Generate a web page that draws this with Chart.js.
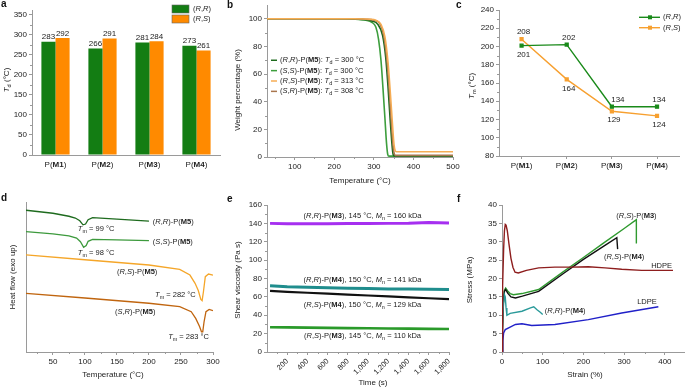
<!DOCTYPE html>
<html lang="en">
<head>
<meta charset="UTF-8">
<title>Polymer panels</title>
<script src="https://cdn.jsdelivr.net/npm/chart.js"></script>
<style>
  body { margin: 0; background: #fff; }
  #wrap { position: relative; width: 685px; height: 389px; overflow: hidden; }
  canvas { position: absolute; }
  .lt { position: absolute; font: bold 10px "Liberation Sans", Arial, sans-serif; line-height: 10px; color: #111; }
</style>
</head>
<body>
<div id="wrap">
  <canvas id="ca"></canvas><canvas id="cb"></canvas><canvas id="cc"></canvas>
  <canvas id="cd"></canvas><canvas id="ce"></canvas><canvas id="cf"></canvas>
  <div class="lt" style="left:1px;top:-1px">a</div>
  <div class="lt" style="left:227px;top:0px">b</div>
  <div class="lt" style="left:456px;top:0px">c</div>
  <div class="lt" style="left:1px;top:193px">d</div>
  <div class="lt" style="left:227px;top:194px">e</div>
  <div class="lt" style="left:457px;top:194px">f</div>
</div>
<script>
// ---- data ----
const cats = ['M1', 'M2', 'M3', 'M4'];
const tdRR = [283, 266, 281, 273];
const tdRS = [292, 291, 284, 261];
const tmRR = [201, 202, 134, 134];
const tmRS = [208, 164, 129, 124];

// TGA (temperature, weight %)
const tgaRR = [[30,100],[230,100],[270,99.6],[295,98.5],[310,96],[322,88],[330,72],[336,50],[341,28],[345,12],[348,3],[351,0.8],[500,0.8]];
const tgaSS = [[30,100],[200,100],[250,99.8],[280,99],[295,97.5],[305,94],[312,85],[318,70],[323,50],[328,28],[332,10],[335,2],[338,0.6],[500,0.6]];
const tgaRS = [[30,100],[250,100],[290,99.7],[305,99],[318,96],[328,87],[336,68],[342,45],[347,24],[351,9],[354,4.5],[357,3.8],[500,3.8]];
const tgaSR = [[30,100],[240,100],[280,99.7],[300,99],[315,96.5],[325,88],[333,70],[339,48],[344,26],[348,10],[351,3],[354,1.2],[500,1.2]];

// DSC (temperature, heat flow, arbitrary units)
const dscRR = [[8,94.5],[50,92.5],[75,90.5],[85,89.3],[92,87.5],[97,84.8],[101,85.3],[105,88.2],[112,89.6],[150,88.6],[200,87.3]];
const dscSS = [[8,80.2],[50,78.8],[75,77.4],[87,75.9],[93,73.5],[98,69.8],[102,71],[105,73.8],[112,75.1],[150,74.8],[200,74.2]];
const dscRS = [[8,64.7],[100,61.5],[200,58],[248,55.1],[264,51.3],[272,45.8],[277,41],[281,35],[283,34.2],[285,40],[288,50.2],[293,52],[300,51.3]];
const dscSR = [[8,39.1],[100,36],[200,32.5],[248,30.2],[266,26.9],[273,22.4],[279,17],[282,13.5],[284,13.5],[286,20],[289,26.9],[294,28.4],[300,27.6]];

// shear viscosity vs time
const times = [30, 200, 400, 600, 800, 1000, 1200, 1400, 1600, 1800];
const viscRRM3 = [140, 139.5, 139.5, 139.7, 139.8, 139.8, 140, 140.2, 141, 140.5];
const viscRRM4 = [72, 71, 70.5, 70, 69.5, 69, 68.7, 68.5, 68.2, 68];
const viscRSM4 = [66.5, 65.5, 64.5, 63.5, 62.5, 61.5, 60.5, 59.5, 58.5, 57.5];
const viscRSM3 = [27, 26.8, 26.5, 26.3, 26, 25.8, 25.6, 25.4, 25.2, 25];

// stress-strain (strain %, stress MPa)
const ssHDPE = [[0,0],[1,8],[2,18],[4,28],[6,33],[8,34.7],[10,34.5],[13,33],[17,29.5],[22,25.5],[27,23],[32,21.7],[40,21.5],[60,22.2],[90,22.9],[130,23.1],[170,23.1],[212,23.2],[253,22.9],[294,22.5],[343,22.2],[420,22.2]];
const ssRSM3 = [[0,0],[1,6],[3,13],[6,16.8],[9,17.4],[14,16.6],[20,15.9],[28,15.6],[49,15.9],[90,17],[150,21.8],[200,25.7],[250,29.7],[300,33.6],[330,36],[330,29.5]];
const ssRSM4 = [[0,0],[1,6],[3,13],[6,16.5],[9,17],[14,16],[22,15],[33,14.7],[50,15.2],[90,16.5],[150,21.3],[200,25.2],[250,28.8],[282,31.1],[284,28]];
const ssRRM4 = [[0,0],[1,6],[3,12],[6,15.6],[8,15],[10,12],[12,10],[20,10.5],[49,11.1],[70,12],[78,12.3],[86,11.5],[94,10.8],[100,10.2]];
const ssLDPE = [[0,0],[2,3],[4,5.2],[8,6.1],[20,6.8],[33,7.5],[49,7.7],[73,7.2],[130,7.5],[212,8.8],[294,10.6],[384,12.3]];

// ---- drawing helpers ----
const FONT = '"Liberation Sans", Arial, Helvetica, sans-serif';
const INK = '#222', AXIS = '#9a9a9a';
Chart.defaults.font.family = FONT;
Chart.defaults.font.size = 8;
Chart.defaults.color = INK;
Chart.defaults.animation = false;
Chart.defaults.plugins.legend.display = false;
Chart.defaults.plugins.tooltip.enabled = false;

// _x_ italic, *x* bold, ~x~ subscript
function rich(ctx, str, x, y, o = {}) {
  const size = o.size || 7.5;
  const segs = str.split(/(_[^_]+_|\*[^*]+\*|~[^~]+~)/).filter(s => s).map(p => {
    let st = '', t = p, sub = false;
    if (p.length > 2 && p[0] === '_' && p.endsWith('_')) { st = 'italic '; t = p.slice(1, -1); }
    else if (p.length > 2 && p[0] === '*' && p.endsWith('*')) { st = 'bold '; t = p.slice(1, -1); }
    else if (p.length > 2 && p[0] === '~' && p.endsWith('~')) { sub = true; t = p.slice(1, -1); }
    return { t, sub, font: st + (sub ? size * 0.72 : size) + 'px ' + FONT };
  });
  ctx.save();
  ctx.translate(x, y);
  if (o.rot) ctx.rotate(o.rot);
  let w = 0;
  segs.forEach(s => { ctx.font = s.font; s.w = ctx.measureText(s.t).width; w += s.w; });
  let cx = o.align === 'center' ? -w / 2 : o.align === 'right' ? -w : 0;
  ctx.fillStyle = o.color || INK;
  ctx.textBaseline = 'middle';
  segs.forEach(s => { ctx.font = s.font; ctx.fillText(s.t, cx, s.sub ? size * 0.32 : 0); cx += s.w; });
  ctx.restore();
}

function range(a, b, step) { const r = []; for (let v = a; v <= b + 1e-9; v += step) r.push(v); return r; }

function axis(o) {
  const ticks = { display: !o.hide, padding: 2, color: INK, font: { size: o.fs || 8 }, autoSkip: false,
                  maxRotation: o.rot || 0, minRotation: o.rot || 0 };
  if (o.step) ticks.stepSize = o.step;
  if (o.cb) ticks.callback = o.cb;
  if ((o.type || 'linear') === 'linear') ticks.includeBounds = false;
  const s = {
    type: o.type || 'linear',
    offset: !!o.offset,
    grid: { drawOnChartArea: false, drawTicks: !o.noTicks, tickLength: 3, color: AXIS },
    border: { color: AXIS, width: 1 },
    ticks
  };
  if (o.min !== undefined) s.min = o.min;
  if (o.max !== undefined) s.max = o.max;
  if (o.keep) s.afterBuildTicks = sc => { sc.ticks = sc.ticks.filter(t => o.keep(t.value)); };
  return s;
}

function line(data, color, width, extra) {
  return Object.assign({ data: data.map(([x, y]) => ({ x, y })), borderColor: color, backgroundColor: color,
    borderWidth: width, pointRadius: 0, tension: 0, fill: false }, extra || {});
}

function mk(id, box, area, yW, xH, cfg, draw) {
  const [L, T, W, H] = box;
  const cv = document.getElementById(id);
  cv.width = W; cv.height = H;
  cv.style.left = L + 'px'; cv.style.top = T + 'px';
  cv.style.width = W + 'px'; cv.style.height = H + 'px';
  cfg.options.responsive = false;
  cfg.options.devicePixelRatio = 1;
  cfg.options.layout = { padding: { left: area[0] - L - yW, top: area[1] - T, right: L + W - area[2], bottom: T + H - area[3] - xH } };
  cfg.options.scales.x.afterFit = s => { s.height = xH; s.paddingLeft = 0; s.paddingRight = 0; };
  cfg.options.scales.y.afterFit = s => { s.width = yW; s.paddingTop = 0; s.paddingBottom = 0; };
  cfg.plugins = [{
    id: 'ov_' + id,
    afterDraw(chart) {
      const ctx = chart.ctx, sx = chart.scales.x, sy = chart.scales.y;
      const h = {
        g: (str, gx, gy, o) => rich(ctx, str, gx - L, gy - T, o),
        d: (str, xv, yv, o) => rich(ctx, str, sx.getPixelForValue(xv), sy.getPixelForValue(yv), o),
        px: gx => gx - L, py: gy => gy - T,
        minor(ax, vals) {
          const s = chart.scales[ax];
          ctx.save(); ctx.strokeStyle = AXIS; ctx.lineWidth = 1; ctx.beginPath();
          vals.forEach(v => {
            const p = Math.round(s.getPixelForValue(v)) + 0.5;
            if (ax === 'x') { ctx.moveTo(p, s.top); ctx.lineTo(p, s.top + 2); }
            else { ctx.moveTo(s.right - 2, p); ctx.lineTo(s.right, p); }
          });
          ctx.stroke(); ctx.restore();
        }
      };
      draw(chart, ctx, h);
    }
  }];
  return new Chart(cv, cfg);
}

const GREEN = '#137d13', ORANGE = '#ff8a00';
const ROT = -Math.PI / 2;

// ---- a: Td bars ----
mk('ca', [0, 0, 240, 185], [32, 10, 220, 155], 32, 25, {
  type: 'bar',
  data: { labels: cats, datasets: [
    { data: tdRR, backgroundColor: GREEN, categoryPercentage: 0.6, barPercentage: 1 },
    { data: tdRS, backgroundColor: ORANGE, categoryPercentage: 0.6, barPercentage: 1 }
  ] },
  options: { scales: {
    x: axis({ type: 'category', hide: true, noTicks: true, offset: true }),
    y: axis({ min: 0, max: 362, step: 50, keep: v => v % 50 === 0 })
  } }
}, (chart, ctx, h) => {
  h.minor('y', range(25, 325, 50));
  [tdRR, tdRS].forEach((vals, i) => {
    chart.getDatasetMeta(i).data.forEach((bar, j) => rich(ctx, String(vals[j]), bar.x, bar.y - 4.5, { align: 'center', size: 8 }));
  });
  cats.forEach((c, j) => rich(ctx, 'P(*' + c + '*)', chart.scales.x.getPixelForValue(j), h.py(165), { align: 'center', size: 8 }));
  ctx.fillStyle = GREEN; ctx.fillRect(h.px(172), h.py(5), 17, 8);
  ctx.fillStyle = ORANGE; ctx.fillRect(h.px(172), h.py(15), 17, 8);
  ctx.strokeStyle = '#666'; ctx.lineWidth = 0.6;
  ctx.strokeRect(h.px(172), h.py(5), 17, 8); ctx.strokeRect(h.px(172), h.py(15), 17, 8);
  h.g('(_R_,_R_)', 193, 9); h.g('(_R_,_S_)', 193, 19);
  h.g('_T_~d~ (°C)', 7, 80, { rot: ROT, align: 'center', size: 8 });
});

// ---- b: TGA ----
const tgaC = { RR: '#1d6a1d', SS: '#3d9e3d', RS: '#f6ad55', SR: '#a9764e' };
mk('cb', [228, 0, 240, 190], [267, 5, 453, 157], 39, 30, {
  type: 'line',
  data: { datasets: [
    line(tgaRS, tgaC.RS, 1.6, { cubicInterpolationMode: 'monotone' }),
    line(tgaSR, tgaC.SR, 1.6, { cubicInterpolationMode: 'monotone' }),
    line(tgaRR, tgaC.RR, 1.6, { cubicInterpolationMode: 'monotone' }),
    line(tgaSS, tgaC.SS, 1.6, { cubicInterpolationMode: 'monotone' })
  ] },
  options: { scales: {
    x: axis({ min: 30, max: 500, step: 100, keep: v => v >= 100 && v % 100 === 0 }),
    y: axis({ min: 0, max: 110, step: 20, keep: v => v <= 100 })
  } }
}, (chart, ctx, h) => {
  h.minor('x', range(50, 450, 100));
  h.minor('y', range(10, 90, 20));
  const rows = [['(_R_,_R_)-P(*M5*): _T_~d~ = 300 °C', tgaC.RR, 70], ['(_S_,_S_)-P(*M5*): _T_~d~ = 300 °C', tgaC.SS, 62.5],
                ['(_R_,_S_)-P(*M5*): _T_~d~ = 313 °C', tgaC.RS, 55], ['(_S_,_R_)-P(*M5*): _T_~d~ = 308 °C', tgaC.SR, 47.5]];
  rows.forEach(([t, c, yv]) => {
    const y = chart.scales.y.getPixelForValue(yv);
    ctx.strokeStyle = c; ctx.lineWidth = 1.5;
    ctx.beginPath(); ctx.moveTo(h.px(271), y); ctx.lineTo(h.px(277), y); ctx.stroke();
    rich(ctx, t, h.px(280), y, { size: 7.5 });
  });
  h.g('Weight percentage (%)', 238, 90, { rot: ROT, align: 'center', size: 8 });
  h.g('Temperature (°C)', 360, 181, { align: 'center', size: 8 });
});

// ---- c: Tm lines ----
const GREEN2 = '#1a8a1a', ORANGE2 = '#f7a030';
mk('cc', [457, 0, 228, 185], [499, 10, 683, 156], 42, 25, {
  type: 'line',
  data: { labels: cats, datasets: [
    { data: tmRR, borderColor: GREEN2, backgroundColor: GREEN2, borderWidth: 1.4, pointStyle: 'rect', pointRadius: 2, tension: 0 },
    { data: tmRS, borderColor: ORANGE2, backgroundColor: ORANGE2, borderWidth: 1.4, pointStyle: 'rect', pointRadius: 2, tension: 0 }
  ] },
  options: { scales: {
    x: axis({ type: 'category', hide: true, offset: true }),
    y: axis({ min: 80, max: 240, step: 20 })
  } }
}, (chart, ctx, h) => {
  h.minor('y', range(90, 230, 20));
  const sideRR = [1, -1, -1, -1], sideRS = [-1, 1, 1, 1];
  [[tmRR, sideRR, 0], [tmRS, sideRS, 1]].forEach(([vals, side, i]) => {
    chart.getDatasetMeta(i).data.forEach((p, j) => {
      const dx = (i === 0 && j === 2) ? 6 : 2;
      rich(ctx, String(vals[j]), p.x + dx, p.y + (side[j] > 0 ? 9 : -7), { align: 'center', size: 8 });
    });
  });
  cats.forEach((c, j) => rich(ctx, 'P(*' + c + '*)', chart.scales.x.getPixelForValue(j), h.py(166), { align: 'center', size: 8 }));
  [[GREEN2, 17.3, '(_R_,_R_)'], [ORANGE2, 27.7, '(_R_,_S_)']].forEach(([c, gy, t]) => {
    ctx.strokeStyle = c; ctx.fillStyle = c; ctx.lineWidth = 1.4;
    ctx.beginPath(); ctx.moveTo(h.px(639), h.py(gy)); ctx.lineTo(h.px(660), h.py(gy)); ctx.stroke();
    ctx.fillRect(h.px(648), h.py(gy) - 2, 4, 4);
    h.g(t, 663, gy);
  });
  h.g('_T_~m~ (°C)', 472, 86, { rot: ROT, align: 'center', size: 8 });
});

// ---- d: DSC ----
const dscC = { RR: '#1e6b1e', SS: '#3d9a3d', RS: '#f5a629', SR: '#c0650f' };
mk('cd', [0, 195, 230, 194], [26, 202, 213, 352], 26, 30, {
  type: 'line',
  data: { datasets: [line(dscRR, dscC.RR, 1.3), line(dscSS, dscC.SS, 1.3), line(dscRS, dscC.RS, 1.3), line(dscSR, dscC.SR, 1.3)] },
  options: { scales: {
    x: axis({ min: 8, max: 300, step: 50, keep: v => v >= 50 && v % 50 === 0 }),
    y: axis({ min: 0, max: 100, hide: true, noTicks: true })
  } }
}, (chart, ctx, h) => {
  h.minor('x', range(25, 275, 50));
  h.d('(_R_,_R_)-P(*M5*)', 206, 86.7);
  h.d('_T_~m~ = 99 °C', 89, 82);
  h.d('(_S_,_S_)-P(*M5*)', 206, 73.3);
  h.d('_T_~m~ = 98 °C', 89, 66);
  h.d('(_R_,_S_)-P(*M5*)', 150, 53.3);
  h.d('_T_~m~ = 282 °C', 209.6, 38);
  h.d('(_S_,_R_)-P(*M5*)', 147, 26.7);
  h.d('_T_~m~ = 283 °C', 230, 10);
  h.g('Heat flow (exo up)', 13, 277, { rot: ROT, align: 'center', size: 8 });
  h.g('Temperature (°C)', 113, 375, { align: 'center', size: 8 });
});

// ---- e: shear viscosity ----
const pair = vals => times.map((t, i) => [t, vals[i]]);
mk('ce', [228, 195, 240, 194], [267, 205, 449, 352], 39, 30, {
  type: 'line',
  data: { datasets: [
    line(pair(viscRRM3), '#a62ff0', 3),
    line(pair(viscRRM4), '#1f8d8d', 3),
    line(pair(viscRSM4), '#111111', 2.2),
    line(pair(viscRSM3), '#2a9a2a', 2.6)
  ] },
  options: { scales: {
    x: axis({ min: 0, max: 1800, step: 200, rot: 45, fs: 7.5, keep: v => v >= 200, cb: v => Number(v).toLocaleString('en-US') }),
    y: axis({ min: 0, max: 160, step: 20 })
  } }
}, (chart, ctx, h) => {
  h.minor('x', range(100, 1700, 200));
  h.minor('y', range(10, 150, 20));
  h.d('(_R_,_R_)-P(*M3*), 145 °C, _M_~n~ = 160 kDa', 945, 148, { align: 'center' });
  h.d('(_R_,_R_)-P(*M4*), 150 °C, _M_~n~ = 141 kDa', 945, 78.4, { align: 'center' });
  h.d('(_R_,_S_)-P(*M4*), 150 °C, _M_~n~ = 129 kDa', 945, 51.1, { align: 'center' });
  h.d('(_R_,_S_)-P(*M3*), 145 °C, _M_~n~ = 110 kDa', 945, 17.4, { align: 'center' });
  h.g('Shear viscosity (Pa s)', 238, 280, { rot: ROT, align: 'center', size: 8 });
  h.g('Time (s)', 373, 383, { align: 'center', size: 8 });
});

// ---- f: stress-strain ----
mk('cf', [457, 195, 228, 194], [502, 205, 684, 352], 45, 30, {
  type: 'line',
  data: { datasets: [
    line(ssHDPE, '#8e1e1e', 1.4),
    line(ssLDPE, '#2020c8', 1.4),
    line(ssRRM4, '#2a9a9a', 1.4),
    line(ssRSM4, '#111111', 1.4),
    line(ssRSM3, '#2f9a2f', 1.4)
  ] },
  options: { scales: {
    x: axis({ min: 0, max: 447, step: 100, keep: v => v <= 400 }),
    y: axis({ min: 0, max: 40, step: 5 })
  } }
}, (chart, ctx, h) => {
  h.minor('x', range(50, 350, 100));
  h.d('(_R_,_S_)-P(*M3*)', 330, 37, { align: 'center' });
  h.d('(_R_,_S_)-P(*M4*)', 300, 25.9, { align: 'center' });
  h.d('HDPE', 392, 23.4, { align: 'center' });
  h.d('(_R_,_R_)-P(*M4*)', 105, 11.2);
  h.d('LDPE', 356, 13.6, { align: 'center' });
  h.g('Stress (MPa)', 470, 280, { rot: ROT, align: 'center', size: 8 });
  h.g('Strain (%)', 585, 375, { align: 'center', size: 8 });
});
</script>
</body>
</html>
